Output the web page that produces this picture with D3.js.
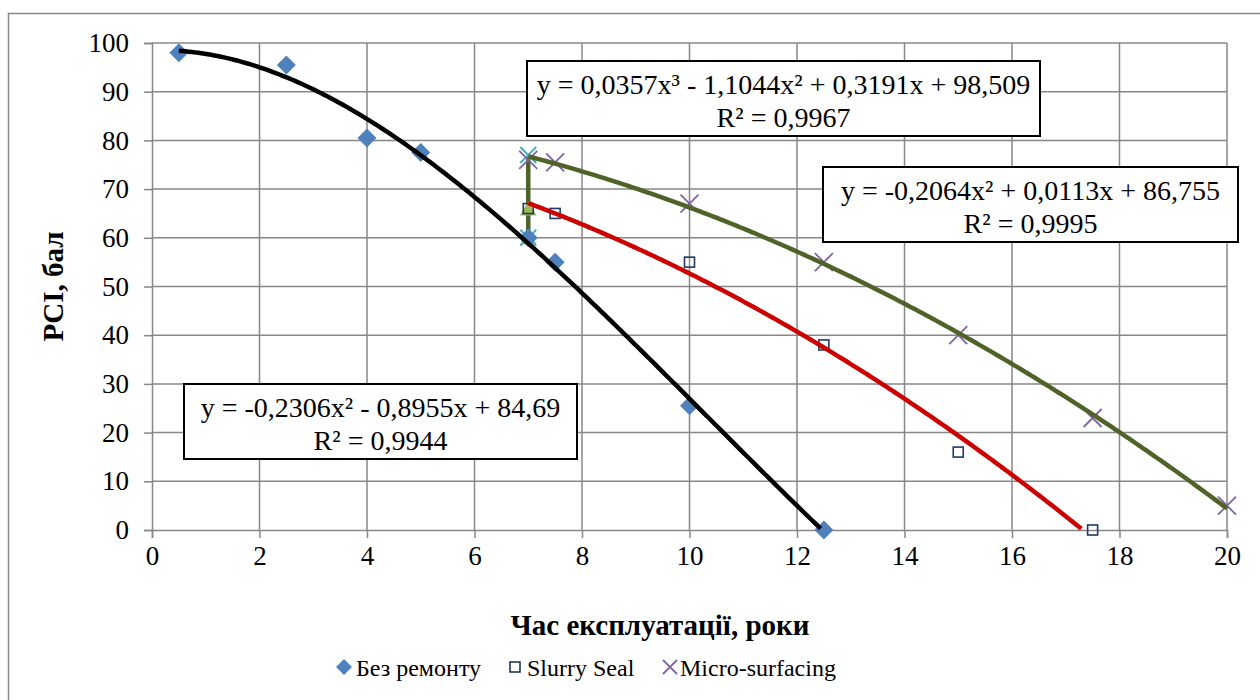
<!DOCTYPE html>
<html>
<head>
<meta charset="utf-8">
<script src="https://cdn.jsdelivr.net/npm/d3@7"></script>
<style>
  body { margin: 0; background: #fff; }
</style>
</head>
<body>
<div class="canvas"></div>
<script>
// data
const noRepairX = [0.5, 2.5, 4, 5, 7, 7.5, 10, 12.5];
const noRepairY = [98, 95.5, 80.5, 77.5, 60, 55, 25.5, 0];
const slurryX = [7, 7.5, 10, 12.5, 15, 17.5];
const slurryY = [66, 65, 55, 38, 16, 0];
const microX = [7, 7.5, 10, 12.5, 15, 17.5, 20];
const microY = [76, 75.5, 67, 55, 40, 23, 5];
// small helper series at the repair moment (x = 7)
const jumpX = [7, 7];
const jumpY = [60, 76.7];
const triX = [7, 7];
const triY = [66, 60];
const cyanX = [7, 7];
const cyanY = [77, 60];

// trendline coefficients (highest power first), as printed on the chart
const cubicCoef = [0.0357, -1.1044, 0.3191, 98.509];
const redCoef = [-0.2306, -0.8955, 84.69];
const greenCoef = [-0.2064, 0.0113, 86.755];

const xTicks = [0, 2, 4, 6, 8, 10, 12, 14, 16, 18, 20];
const yTicks = [0, 10, 20, 30, 40, 50, 60, 70, 80, 90, 100];
const legendNames = ["Без ремонту", "Slurry Seal", "Micro-surfacing"];

(function () {
    const width = 1260, height = 700;
    const FONT = "serif";
    const svg = d3.select(".canvas").append("svg")
        .attr("width", width).attr("height", height)
        .attr("font-family", FONT);

    const x = d3.scaleLinear().domain([0, 20]).range([152, 1227]);
    const y = d3.scaleLinear().domain([0, 100]).range([530, 43]);
    const GRID = "#878787";

    // outer frame
    svg.append("rect").attr("x", 8.5).attr("y", 13.5)
        .attr("width", 1300).attr("height", 800)
        .attr("fill", "none").attr("stroke", GRID).attr("stroke-width", 1.5);

    // grid
    svg.append("g").selectAll("line").data(yTicks.slice(1)).enter().append("line")
        .attr("x1", x(0)).attr("x2", x(20))
        .attr("y1", d => y(d)).attr("y2", d => y(d))
        .attr("stroke", GRID).attr("stroke-width", 1.5);
    svg.append("g").selectAll("line").data(xTicks.slice(1)).enter().append("line")
        .attr("y1", y(0)).attr("y2", y(100))
        .attr("x1", d => x(d)).attr("x2", d => x(d))
        .attr("stroke", GRID).attr("stroke-width", 1.5);

    // axes
    const yAxis = svg.append("g").attr("transform", "translate(" + x(0) + ",0)")
        .call(d3.axisLeft(y).tickValues(yTicks).tickSize(8).tickPadding(15));
    const xAxis = svg.append("g").attr("transform", "translate(0," + y(0) + ")")
        .call(d3.axisBottom(x).tickValues(xTicks).tickSize(8).tickPadding(8));
    [xAxis, yAxis].forEach(g => {
        g.attr("font-family", FONT).attr("font-size", 27);
        g.selectAll("path, line").attr("stroke", GRID).attr("stroke-width", 1.5);
        g.selectAll("text").attr("fill", "#000").attr("font-family", FONT);
    });

    // helper series at x = 7
    const jump = jumpX.map((v, i) => [v, jumpY[i]]);
    svg.append("path").datum(jump)
        .attr("d", d3.line().x(d => x(d[0])).y(d => y(d[1])))
        .attr("stroke", "#4F6228").attr("stroke-width", 4.5);
    svg.append("g").selectAll("path").data(triX.map((v, i) => [v, triY[i]])).enter()
        .append("path")
        .attr("d", d3.symbol().type(d3.symbolTriangle).size(120))
        .attr("transform", d => "translate(" + x(d[0]) + "," + (y(d[1]) + 2) + ")")
        .attr("fill", "#9BBB59");
    svg.append("g").selectAll("path").data(cyanX.map((v, i) => [v, cyanY[i]])).enter()
        .append("path")
        .attr("d", "M-8,-8L8,8M-8,8L8,-8")
        .attr("transform", d => "translate(" + x(d[0]) + "," + y(d[1]) + ")")
        .attr("stroke", "#4BACC6").attr("stroke-width", 2);

    // main markers
    function diamond(g, r) {
        r = r || 9.5;
        g.append("path").attr("d", `M0,${-r}L${r},0L0,${r}L${-r},0Z`).attr("fill", "#4F81BD");
    }
    function square(g) {
        g.append("rect").attr("x", -5).attr("y", -5).attr("width", 10).attr("height", 10)
            .attr("fill", "none").attr("stroke", "#1F3864").attr("stroke-width", 1.6);
    }
    function cross(g, r) {
        r = r || 9;
        g.append("path").attr("d", `M${-r},${-r}L${r},${r}M${-r},${r}L${r},${-r}`)
            .attr("stroke", "#8064A2").attr("stroke-width", 1.8);
    }
    function markers(xs, ys, draw) {
        svg.append("g").selectAll("g").data(xs.map((v, i) => [v, ys[i]])).enter()
            .append("g")
            .attr("transform", d => "translate(" + x(d[0]) + "," + y(d[1]) + ")")
            .each(function () { draw(d3.select(this)); });
    }
    markers(noRepairX, noRepairY, diamond);
    markers(slurryX, slurryY, square);
    markers(microX, microY, cross);

    // trendlines (drawn over the markers)
    const poly = c => v => c.reduce((acc, k) => acc * v + k, 0);
    function trend(coef, x0, x1, color) {
        const f = poly(coef);
        const pts = d3.range(0, 201).map(i => x0 + (x1 - x0) * i / 200)
            .map(v => [v, f(v)]).filter(p => p[1] >= 0);
        svg.append("path").datum(pts)
            .attr("d", d3.line().x(d => x(d[0])).y(d => y(d[1])))
            .attr("fill", "none").attr("stroke", color).attr("stroke-width", 4.5);
    }
    trend(greenCoef, 7, 20, "#4F6228");
    trend(redCoef, 7, 17.5, "#CC0000");
    trend(cubicCoef, 0.5, 12.5, "#000000");

    // equation boxes
    function eqBox(x0, y0, w, h, line1, sup1, line2) {
        const g = svg.append("g");
        g.append("rect").attr("x", x0).attr("y", y0).attr("width", w).attr("height", h)
            .attr("fill", "#fff").attr("stroke", "#000").attr("stroke-width", 2);
        const cx = x0 + w / 2;
        const t = g.append("text").attr("x", cx).attr("y", y0 + 33)
            .attr("text-anchor", "middle").attr("font-size", 28).attr("font-family", FONT);
        line1.forEach((s, i) => {
            t.append("tspan").text(s);
            if (sup1[i]) t.append("tspan").text(sup1[i]);
        });
        g.append("text").attr("x", cx).attr("y", y0 + 66).attr("font-family", FONT)
            .attr("text-anchor", "middle").attr("font-size", 28).text(line2);
    }
    eqBox(527, 61, 513, 75,
        ["y = 0,0357x", " - 1,1044x", " + 0,3191x + 98,509"], ["³", "²", ""], "R² = 0,9967");
    eqBox(823, 167, 415, 75,
        ["y = -0,2064x", " + 0,0113x + 86,755"], ["²", ""], "R² = 0,9995");
    eqBox(184, 384, 393, 75,
        ["y = -0,2306x", " - 0,8955x + 84,69"], ["²", ""], "R² = 0,9944");

    // axis titles
    svg.append("text").attr("x", 660).attr("y", 635).attr("font-family", FONT)
        .attr("text-anchor", "middle").attr("font-size", 29).attr("font-weight", "bold")
        .text("Час експлуатації, роки");
    svg.append("text").attr("transform", "translate(63," + y(50) + ") rotate(-90)")
        .attr("text-anchor", "middle").attr("font-size", 29).attr("font-weight", "bold")
        .attr("font-family", FONT).text("PCI, бал");

    // legend
    const legX = [344, 515, 670];
    const legDraw = [g => diamond(g, 8), square, g => cross(g, 7)];
    legendNames.forEach((name, i) => {
        const g = svg.append("g").attr("transform", "translate(" + legX[i] + ",667)");
        legDraw[i](g);
        g.append("text").attr("x", i === 2 ? 10 : 12).attr("y", 9).attr("font-size", 24)
            .attr("font-family", FONT).text(name);
    });
})();
</script>
</body>
</html>
